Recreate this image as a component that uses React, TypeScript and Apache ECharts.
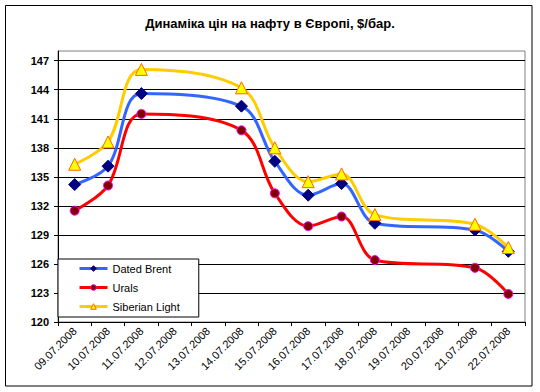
import React, { useEffect, useRef } from "react";
import * as echarts from "echarts";

const categories = [
  "09.07.2008", "10.07.2008", "11.07.2008", "12.07.2008", "13.07.2008",
  "14.07.2008", "15.07.2008", "16.07.2008", "17.07.2008", "18.07.2008",
  "19.07.2008", "20.07.2008", "21.07.2008", "22.07.2008",
];
const datedBrent = [134.2, 136.1, 143.6, null, null, 142.3, 136.6, 133.1, 134.3, 130.2, null, null, 129.5, 127.3];
const urals = [131.5, 134.1, 141.5, null, null, 139.8, 133.3, 129.9, 130.9, 126.4, null, null, 125.6, 122.9];
const siberianLight = [136.3, 138.6, 146.1, null, null, 144.2, 138.0, 134.5, 135.3, 131.1, null, null, 130.1, 127.7];
const yTicks = [120, 123, 126, 129, 132, 135, 138, 141, 144, 147];

const FONT = "Arial, 'Liberation Sans', sans-serif";

export default function App() {
  const ref = useRef<HTMLDivElement>(null);
  useEffect(() => {
    document.body.style.margin = "0";
    const chart = echarts.init(ref.current!, undefined, { renderer: "svg" });
    chart.setOption({
      animation: false,
      backgroundColor: "#fff",
      textStyle: { fontFamily: FONT },
      graphic: [
        {
          type: "rect",
          silent: true,
          z: 100,
          shape: { x: 5.5, y: 5.5, width: 526.5, height: 380.5 },
          style: { fill: "none", stroke: "#000", lineWidth: 1 },
        },
        {
          type: "text",
          left: "center",
          top: 17,
          style: {
            text: "Динаміка цін на нафту в Європі, $/бар.",
            font: `bold 13px ${FONT}`,
            fill: "#000",
          },
        },
      ],
      grid: {
        left: 58,
        top: 51,
        right: 15,
        bottom: 70,
        show: true,
        borderColor: "#808080",
        borderWidth: 1,
        backgroundColor: "transparent",
      },
      legend: {
        orient: "vertical",
        left: 58,
        top: 259,
        padding: [4, 19, 5, 20],
        itemWidth: 28,
        itemHeight: 7,
        itemGap: 8,
        backgroundColor: "#fff",
        borderColor: "#000",
        borderWidth: 1,
        itemStyle: { borderWidth: 1 },
        lineStyle: { width: 3 },
        textStyle: { fontSize: 11, fontFamily: FONT, color: "#000" },
        data: ["Dated Brent", "Urals", "Siberian Light"],
      },
      xAxis: {
        type: "category",
        data: categories,
        boundaryGap: true,
        axisLine: { lineStyle: { color: "#000", width: 1 } },
        axisTick: { show: true, length: 4, interval: 0, lineStyle: { color: "#000" } },
        axisLabel: {
          rotate: 45,
          interval: 0,
          fontSize: 11,
          margin: 7,
          color: "#000",
          fontFamily: FONT,
        },
        splitLine: { show: false },
      },
      yAxis: {
        type: "value",
        min: 120,
        max: 148,
        interval: 3,
        axisLine: { show: true, lineStyle: { color: "#000", width: 1 } },
        axisTick: { show: true, length: 4, customValues: yTicks, lineStyle: { color: "#000" } },
        axisLabel: {
          fontSize: 11,
          fontWeight: "bold",
          color: "#000",
          margin: 9,
          fontFamily: FONT,
          customValues: yTicks,
        },
        splitLine: {
          show: true,
          showMinLine: false,
          lineStyle: { color: "#000", width: 1 },
        },
      },
      series: [
        {
          name: "Dated Brent",
          type: "line",
          data: datedBrent,
          connectNulls: true,
          smooth: 0.35,
          symbol: "diamond",
          symbolSize: 12,
          lineStyle: { color: "#3366FF", width: 3 },
          itemStyle: { color: "#000080", borderColor: "#000080", borderWidth: 1 },
        },
        {
          name: "Urals",
          type: "line",
          data: urals,
          connectNulls: true,
          smooth: 0.35,
          symbol: "circle",
          symbolSize: 9,
          lineStyle: { color: "#FF0000", width: 3 },
          itemStyle: { color: "#800000", borderColor: "#FF00FF", borderWidth: 1 },
        },
        {
          name: "Siberian Light",
          type: "line",
          data: siberianLight,
          connectNulls: true,
          smooth: 0.35,
          symbol: "triangle",
          symbolSize: 12,
          lineStyle: { color: "#FFCC00", width: 3 },
          itemStyle: { color: "#FFFF00", borderColor: "#FF6600", borderWidth: 1 },
        },
      ],
    });
    return () => chart.dispose();
  }, []);
  return (
    <div
      ref={ref}
      style={{ position: "absolute", left: 0, top: 0, width: 540, height: 392 }}
    />
  );
}
